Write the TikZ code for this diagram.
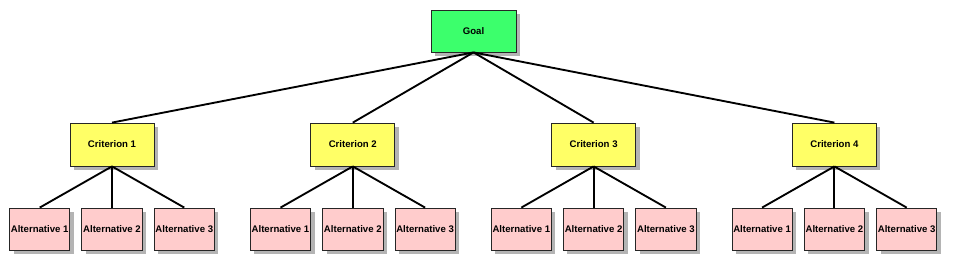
\documentclass[tikz,border=0pt]{standalone}
\usepackage{fontspec}
\setmainfont{Liberation Sans}
\usetikzlibrary{positioning,shadows}
\definecolor{ahpGoal}{HTML}{3CFF6C}
\definecolor{ahpCrit}{HTML}{FFFF66}
\definecolor{ahpAlt}{HTML}{FFCCCC}
\definecolor{ahpShadow}{HTML}{B4B4B4}
\tikzset{
  ahpbox/.style={rectangle, draw=black!85, line width=0.6pt, align=center,
    font=\fontsize{7.2}{8}\selectfont\bfseries, inner sep=1pt,
    drop shadow={shadow xshift=3pt, shadow yshift=-3pt, fill=ahpShadow, opacity=1}},
  goalbox/.style={ahpbox, fill=ahpGoal, minimum width=63.75pt, minimum height=31.5pt},
  critbox/.style={ahpbox, fill=ahpCrit, minimum width=63pt, minimum height=32.25pt},
  altbox/.style={ahpbox, fill=ahpAlt, minimum width=45pt, minimum height=31.5pt},
  ahpline/.style={draw=black, line width=1.4pt}
}
\begin{document}
\begin{tikzpicture}[x=0.75pt, y=-0.75pt, node distance=30.9pt and 8.4pt]
\useasboundingbox (0,0) rectangle (953,266);
\node[goalbox] (goal) at (473.5,31) {Goal};
\node[critbox] (c1) at (112,144.5) {Criterion 1};
\node[critbox, right=117pt of c1] (c2) {Criterion 2};
\node[critbox, right=117pt of c2] (c3) {Criterion 3};
\node[critbox, right=117pt of c3] (c4) {Criterion 4};
\node[altbox, below=of c1] (a12) {Alternative 2};
\node[altbox, left=of a12] (a11) {Alternative 1};
\node[altbox, right=of a12] (a13) {Alternative 3};
\node[altbox, below=of c2] (a22) {Alternative 2};
\node[altbox, left=of a22] (a21) {Alternative 1};
\node[altbox, right=of a22] (a23) {Alternative 3};
\node[altbox, below=of c3] (a32) {Alternative 2};
\node[altbox, left=of a32] (a31) {Alternative 1};
\node[altbox, right=of a32] (a33) {Alternative 3};
\node[altbox, below=of c4] (a42) {Alternative 2};
\node[altbox, left=of a42] (a41) {Alternative 1};
\node[altbox, right=of a42] (a43) {Alternative 3};

\draw[ahpline] (goal.south) -- (c1.north);
\draw[ahpline] (goal.south) -- (c2.north);
\draw[ahpline] (goal.south) -- (c3.north);
\draw[ahpline] (goal.south) -- (c4.north);
\draw[ahpline] (c1.south) -- (a11.north);
\draw[ahpline] (c1.south) -- (a12.north);
\draw[ahpline] (c1.south) -- (a13.north);
\draw[ahpline] (c2.south) -- (a21.north);
\draw[ahpline] (c2.south) -- (a22.north);
\draw[ahpline] (c2.south) -- (a23.north);
\draw[ahpline] (c3.south) -- (a31.north);
\draw[ahpline] (c3.south) -- (a32.north);
\draw[ahpline] (c3.south) -- (a33.north);
\draw[ahpline] (c4.south) -- (a41.north);
\draw[ahpline] (c4.south) -- (a42.north);
\draw[ahpline] (c4.south) -- (a43.north);
\end{tikzpicture}
\end{document}
